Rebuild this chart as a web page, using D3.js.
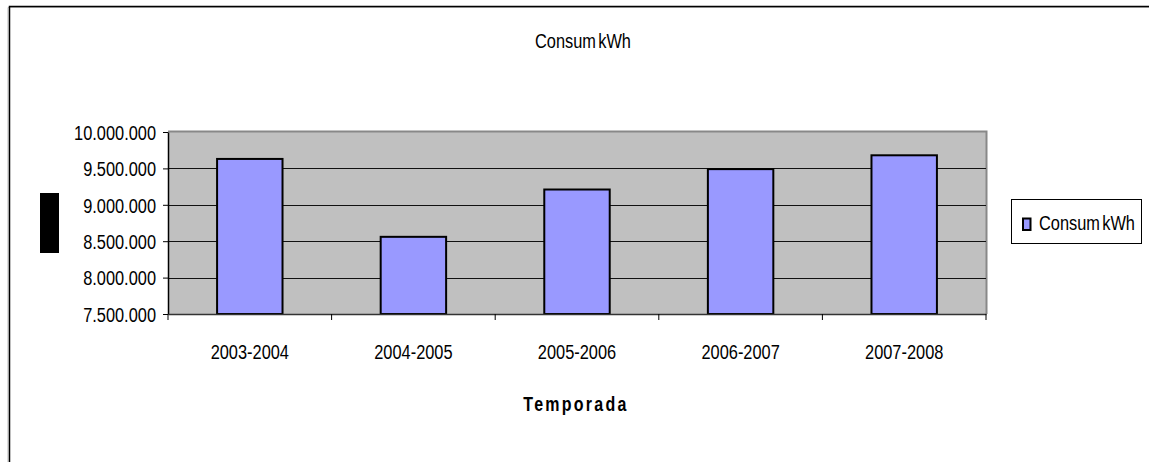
<!DOCTYPE html>
<html><head><meta charset="utf-8">
<script src="https://cdn.jsdelivr.net/npm/d3@7"></script>
<style>
html,body{margin:0;padding:0;background:#fff;overflow:hidden;}
svg{display:block;}
text{font-family:"Liberation Sans",Arial,sans-serif;fill:#000;}
</style></head><body>
<svg id="c" width="1149" height="462"></svg>
<script>
const categories = ["2003-2004","2004-2005","2005-2006","2006-2007","2007-2008"];
const values = [9630000, 8560000, 9210000, 9490000, 9680000];
const yTicks = [7500000, 8000000, 8500000, 9000000, 9500000, 10000000];
const chartTitle = "Consum kWh";
const seriesName = "Consum kWh";
const xTitle = "Temporada";

const SX = 0.78, FS = 21;
const svg = d3.select("#c");
const m = {left:168, right:986, top:132, bottom:314};

// outer frame (left and top edges only are visible)
svg.append("path").attr("d","M8,462V7.5H1149")
  .attr("fill","none").attr("stroke","#bbb").attr("stroke-width",1);
svg.append("path").attr("d","M9.5,462V6.5H1149")
  .attr("fill","none").attr("stroke","#000").attr("stroke-width",1.5);

const x = d3.scaleBand().domain(categories).range([m.left,m.right]).paddingInner(0.6).paddingOuter(0.3);
const y = d3.scaleLinear().domain([7500000,10000000]).range([m.bottom,m.top]);

// plot background
svg.append("rect").attr("x",m.left).attr("y",m.top).attr("width",m.right-m.left).attr("height",m.bottom-m.top)
  .attr("fill","#c0c0c0");
// top/right border
svg.append("path").attr("d",`M${m.left},${m.top-0.5}H${m.right+0.5}V${m.bottom}`)
  .attr("fill","none").attr("stroke","#888").attr("stroke-width",2);

// gridlines
svg.append("g").selectAll("line").data(yTicks.slice(1,-1)).join("line")
  .attr("x1",m.left).attr("x2",m.right).attr("y1",d=>Math.round(y(d))+0.5).attr("y2",d=>Math.round(y(d))+0.5)
  .attr("stroke","#111").attr("stroke-width",1);

// bars
svg.append("g").selectAll("rect").data(values).join("rect")
  .attr("x",(d,i)=>x(categories[i])).attr("width",x.bandwidth())
  .attr("y",d=>y(d)).attr("height",d=>m.bottom-y(d))
  .attr("fill","#9999ff").attr("stroke","#000").attr("stroke-width",2);

// y axis
const loc = d3.formatLocale({decimal:",",thousands:".",grouping:[3],currency:["",""]});
const fmt = loc.format(",.0f");
const ya = svg.append("g").attr("transform",`translate(${m.left},0)`)
  .call(d3.axisLeft(y).tickValues(yTicks).tickFormat(fmt).tickSize(5).tickSizeOuter(0));
ya.select(".domain").attr("stroke","#000").attr("stroke-width",1.5);
ya.selectAll(".tick line").attr("stroke","#000");
ya.selectAll(".tick text").attr("x",0).attr("dy","0.35em")
  .attr("transform",`translate(-12,0) scale(${SX},1)`)
  .attr("font-size",FS).attr("font-family",'"Liberation Sans",Arial,sans-serif').attr("fill","#000");

// x axis
const xa = svg.append("g").attr("transform",`translate(0,${m.bottom})`)
  .call(d3.axisBottom(x).tickSize(0).tickSizeOuter(0));
xa.select(".domain").attr("stroke","#333").attr("stroke-width",1.5);
xa.selectAll(".tick text").attr("y",0).attr("dy",0)
  .attr("transform",`translate(0,45) scale(${SX},1)`)
  .attr("font-size",FS).attr("font-family",'"Liberation Sans",Arial,sans-serif').attr("fill","#000");
// category boundary ticks
const bounds = d3.range(categories.length+1).map(i=>m.left + i*x.step());
svg.append("g").selectAll("line").data(bounds).join("line")
  .attr("x1",d=>d).attr("x2",d=>d).attr("y1",m.bottom).attr("y2",m.bottom+6)
  .attr("stroke","#000").attr("stroke-width",1);

function stext(tx,ty,str,opts={}){
  const t = svg.append("text").attr("transform",`translate(${tx},${ty}) scale(${SX},1)`)
    .attr("font-size",opts.fs||FS).attr("text-anchor",opts.anchor||"middle").text(str);
  if(opts.bold) t.attr("font-weight","bold");
  if(opts.ls) t.attr("letter-spacing",opts.ls);
  if(opts.ws) t.attr("word-spacing",opts.ws);
  return t;
}
stext(583,48,chartTitle,{ws:-3});
stext(576,410.5,xTitle,{bold:true,ls:2.9,fs:20.5});

// black box (y axis title area)
svg.append("rect").attr("x",40).attr("y",193).attr("width",19).attr("height",60).attr("fill","#000");

// legend
const lg = svg.append("g");
lg.append("rect").attr("x",1011.5).attr("y",199.5).attr("width",130).attr("height",44)
  .attr("fill","#fff").attr("stroke","#000").attr("stroke-width",1);
lg.append("rect").attr("x",1023).attr("y",218.5).attr("width",7.5).attr("height",11.5)
  .attr("fill","#9999ff").attr("stroke","#000").attr("stroke-width",2);
stext(1039,229.5,seriesName,{anchor:"start",ws:-3});
</script>
</body></html>
